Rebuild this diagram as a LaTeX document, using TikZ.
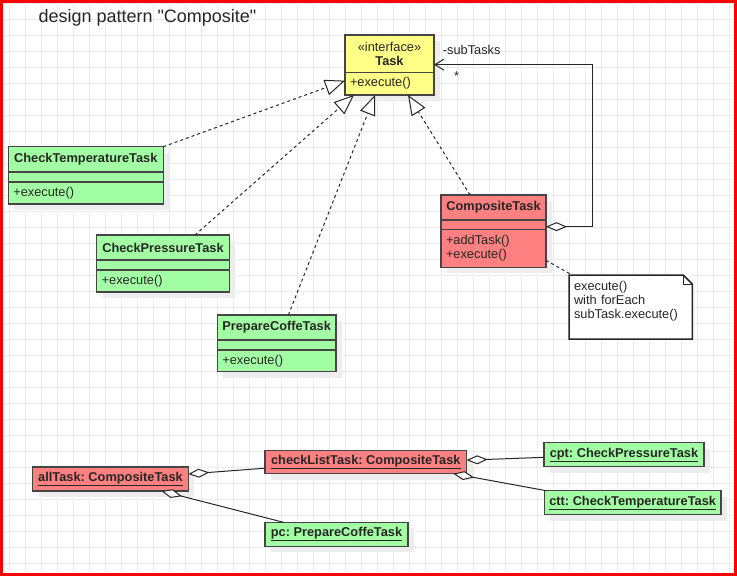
\documentclass[tikz,border=0pt]{standalone}
\usepackage{fontspec}
\setmainfont{Liberation Sans}[Ligatures=TeXOff]
\usepackage{xcolor}
\usepackage{tikz}
\usetikzlibrary{positioning,arrows.meta,shadows}
\frenchspacing

\definecolor{taskgreen}{HTML}{A3FFA3}
\definecolor{taskred}{HTML}{FF8080}
\definecolor{taskyellow}{HTML}{FFFF88}
\definecolor{umlborder}{HTML}{454545}
\newcommand{\umlfont}{\fontsize{12.8}{14.3}\selectfont}

\tikzset{
    gridline/.style={draw=black!8, line width=1pt},
    umlbox/.style={draw=umlborder, line width=1.5pt, outer sep=0pt, inner xsep=5pt, inner ysep=0pt,
        text=black!85, anchor=north west, font=\umlfont,
        drop shadow={shadow xshift=6pt, shadow yshift=-6pt, fill=black!7, opacity=1}},
    classhead/.style={umlbox, font=\umlfont\bfseries, minimum height=25pt},
    classattr/.style={umlbox, minimum height=10pt},
    classops/.style={umlbox, align=left, minimum height=22pt},
    objbox/.style={umlbox, font=\umlfont\bfseries, minimum height=24pt},
    notebox/.style={fill=white, anchor=north west, inner xsep=5pt, inner ysep=0pt, outer sep=0pt,
        align=left, font=\umlfont, text=black!85, minimum height=64pt},
    rolelabel/.style={font=\umlfont, text=black!85, inner sep=0pt},
    realize/.style={draw=black!85, line width=1pt, dash pattern=on 3pt off 3pt,
        -{Triangle[length=20pt, width=16pt, fill=white]}},
    aggr/.style={draw=black!85, line width=1pt, {Diamond[length=21pt, width=9pt, fill=white]}-},
    nav/.style={draw=black!85, line width=1pt,
        {Diamond[length=21pt, width=9pt, fill=white]}-{Straight Barb[length=9pt, width=11pt]}},
    noteedge/.style={draw=black!85, line width=1pt, dash pattern=on 3pt off 3pt},
}

\begin{document}
\begin{tikzpicture}[x=1pt, y=-1pt]
    \useasboundingbox (0,0) rectangle (737,576);
    \foreach \gx in {0,...,45} \draw[gridline] (9.3+16*\gx,0) -- (9.3+16*\gx,576);
    \foreach \gy in {0,...,35} \draw[gridline] (0,3.3+16*\gy) -- (737,3.3+16*\gy);
    \draw[red, line width=3pt] (1.5,1.5) rectangle (735.5,574.5);

    \node[anchor=base west, inner sep=0pt, font=\fontsize{18}{20}\selectfont, text=black!85] (title) at (38.3,22.7) {design pattern "Composite"};

    % class diagram
    \node[classhead, fill=taskyellow, minimum width=89pt, minimum height=37.3pt, align=center, font=\umlfont] (task-head) at (345,35) {«interface»\\\textbf{Task}};
    \node[classops, fill=taskyellow, text width=79pt, minimum height=22.7pt, below=0pt of task-head] (task-ops) {+execute()};

    \node[classhead, fill=taskgreen, minimum width=155pt, minimum height=25.3pt] (ctt-head) at (8.3,146.7) {CheckTemperatureTask};
    \node[classattr, fill=taskgreen, minimum width=155pt, below=0pt of ctt-head] (ctt-attr) {};
    \node[classops, fill=taskgreen, text width=145pt, below=0pt of ctt-attr] (ctt-ops) {+execute()};

    \node[classhead, fill=taskgreen, minimum width=132.6pt] (cpt-head) at (96.7,235) {CheckPressureTask};
    \node[classattr, fill=taskgreen, minimum width=132.6pt, below=0pt of cpt-head] (cpt-attr) {};
    \node[classops, fill=taskgreen, text width=122.6pt, below=0pt of cpt-attr] (cpt-ops) {+execute()};

    \node[classhead, fill=taskgreen, minimum width=118.7pt] (pcf-head) at (217.3,315) {PrepareCoffeTask};
    \node[classattr, fill=taskgreen, minimum width=118.7pt, below=0pt of pcf-head] (pcf-attr) {};
    \node[classops, fill=taskgreen, text width=108.7pt, minimum height=21.7pt, below=0pt of pcf-attr] (pcf-ops) {+execute()};

    \node[classhead, fill=taskred, minimum width=105pt] (comp-head) at (441,195) {CompositeTask};
    \node[classattr, fill=taskred, minimum width=105pt, minimum height=9.3pt, below=0pt of comp-head] (comp-attr) {};
    \node[classops, fill=taskred, text width=95pt, minimum height=38pt, below=0pt of comp-attr] (comp-ops) {+addTask()\\+execute()};

    \node[notebox, minimum width=123.3pt, text width=113.3pt] (note) at (569,275) {execute()\\with forEach\\subTask.execute()\\\mbox{}};
    \draw[draw=black!85, line width=1.5pt] (note.north west) -- ([xshift=-9pt]note.north east) -- ([yshift=-9pt]note.north east) -- (note.south east) -- (note.south west) -- cycle;
    \draw[draw=black!85, line width=1pt] ([xshift=-9pt]note.north east) |- ([yshift=-9pt]note.north east);

    \draw[realize] (ctt-head.north east) -- ([yshift=3pt]task-ops.west);
    \draw[realize] ([xshift=32pt]cpt-head.north) -- ([xshift=9pt]task-ops.south west);
    \draw[realize] ([xshift=11.7pt]pcf-head.north) -- ([xshift=30pt]task-ops.south west);
    \draw[realize] ([xshift=-23.5pt]comp-head.north) -- ([xshift=63pt]task-ops.south west);

    \draw[nav] ([yshift=-2pt]comp-attr.east) -- ++(46,0) |- ([yshift=-11pt]task-head.east);
    \node[rolelabel, anchor=base west] (subtasks-role) at (442.7,54) {-subTasks};
    \node[rolelabel, anchor=base] (subtasks-mult) at (456.7,80.5) {*};

    \draw[noteedge] ([yshift=7pt]comp-ops.south east) -- ([xshift=3pt]note.north west);

    % object diagram
    \node[objbox, fill=taskred, minimum width=155.6pt] (obj-all) at (32.7,467) {\underline{allTask: CompositeTask}};
    \node[objbox, fill=taskred, minimum width=201.7pt, minimum height=23pt] (obj-checklist) at (265,450.7) {\underline{checkListTask: CompositeTask}};
    \node[objbox, fill=taskgreen, minimum width=160pt] (obj-cpt) at (544,442.7) {\underline{cpt: CheckPressureTask}};
    \node[objbox, fill=taskgreen, minimum width=176.7pt] (obj-ctt) at (544.3,490.7) {\underline{ctt: CheckTemperatureTask}};
    \node[objbox, fill=taskgreen, minimum width=143pt] (obj-pc) at (265,522.3) {\underline{pc: PrepareCoffeTask}};

    \draw[aggr] ([yshift=5pt]obj-all.east) -- ([yshift=-6pt]obj-checklist.west);
    \draw[aggr] ([xshift=51pt]obj-all.south) -- ([xshift=-53pt]obj-pc.north);
    \draw[aggr] ([yshift=2pt]obj-checklist.east) -- ([yshift=-2.6pt]obj-cpt.west);
    \draw[aggr] ([xshift=87.5pt]obj-checklist.south) -- ([xshift=2pt]obj-ctt.north west);
\end{tikzpicture}
\end{document}
